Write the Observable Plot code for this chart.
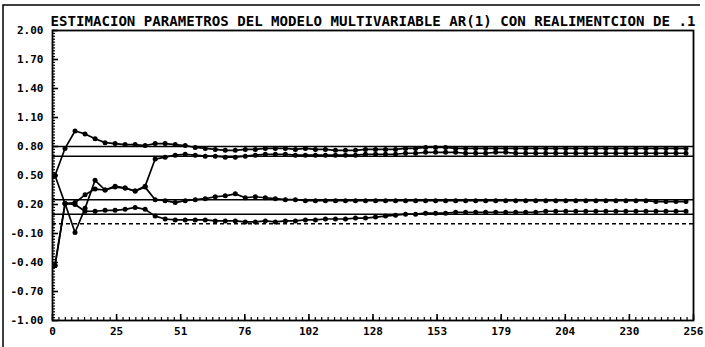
<!DOCTYPE html>
<html>
<head>
<meta charset="utf-8">
<script src="https://cdn.jsdelivr.net/npm/d3@7"></script>
<script src="https://cdn.jsdelivr.net/npm/@observablehq/plot@0.6"></script>
<style>
  html, body { margin: 0; padding: 0; background: #fff; }
  #chart { width: 705px; height: 347px; overflow: hidden; }
</style>
</head>
<body>
<div id="chart"></div>
<script>
// ---- data ----
const titleText = "ESTIMACION PARAMETROS DEL MODELO MULTIVARIABLE AR(1) CON REALIMENTCION DE .1";

// iteration index of each plotted estimate
const iter = d3.range(64).map(k => 1 + 4 * k);

const a11 = [0.50, 0.78, 0.96, 0.93, 0.88, 0.84, 0.83, 0.82, 0.82, 0.81, 0.83, 0.83, 0.82, 0.81, 0.79, 0.78,
             0.77, 0.76, 0.76, 0.77, 0.77, 0.78, 0.78, 0.78, 0.77, 0.78, 0.77, 0.77, 0.76, 0.76, 0.76, 0.77,
             0.77, 0.77, 0.77, 0.78, 0.78, 0.79, 0.79, 0.79, 0.78, 0.78, 0.78, 0.78, 0.78, 0.78, 0.78, 0.78,
             0.78, 0.78, 0.78, 0.78, 0.78, 0.78, 0.78, 0.78, 0.78, 0.78, 0.78, 0.78, 0.78, 0.78, 0.78, 0.78];
const a12 = [0.50, 0.21, -0.09, 0.16, 0.45, 0.35, 0.39, 0.37, 0.34, 0.39, 0.67, 0.69, 0.71, 0.72, 0.71, 0.70,
             0.70, 0.69, 0.69, 0.70, 0.71, 0.72, 0.72, 0.72, 0.71, 0.71, 0.71, 0.71, 0.71, 0.71, 0.71, 0.72,
             0.72, 0.72, 0.72, 0.73, 0.73, 0.74, 0.74, 0.74, 0.74, 0.73, 0.73, 0.73, 0.74, 0.74, 0.73, 0.73,
             0.73, 0.73, 0.73, 0.73, 0.73, 0.73, 0.73, 0.73, 0.73, 0.73, 0.73, 0.73, 0.73, 0.73, 0.73, 0.73];
const a21 = [-0.43, 0.21, 0.22, 0.30, 0.36, 0.35, 0.38, 0.37, 0.34, 0.38, 0.25, 0.24, 0.22, 0.24, 0.25, 0.26,
             0.28, 0.29, 0.31, 0.27, 0.28, 0.27, 0.26, 0.25, 0.25, 0.24, 0.24, 0.24, 0.24, 0.24, 0.24, 0.24,
             0.24, 0.24, 0.24, 0.24, 0.24, 0.24, 0.24, 0.24, 0.24, 0.24, 0.24, 0.24, 0.24, 0.24, 0.24, 0.24,
             0.24, 0.24, 0.24, 0.24, 0.24, 0.24, 0.24, 0.24, 0.24, 0.24, 0.24, 0.24, 0.23, 0.23, 0.23, 0.23];
const a22 = [-0.43, 0.21, 0.20, 0.13, 0.13, 0.14, 0.14, 0.15, 0.17, 0.15, 0.08, 0.05, 0.04, 0.04, 0.04, 0.04,
             0.03, 0.03, 0.03, 0.02, 0.02, 0.03, 0.02, 0.03, 0.03, 0.04, 0.04, 0.05, 0.05, 0.05, 0.06, 0.06,
             0.07, 0.08, 0.09, 0.10, 0.10, 0.11, 0.11, 0.11, 0.12, 0.12, 0.12, 0.12, 0.12, 0.12, 0.12, 0.12,
             0.12, 0.13, 0.13, 0.13, 0.13, 0.13, 0.13, 0.13, 0.13, 0.13, 0.13, 0.13, 0.13, 0.13, 0.13, 0.13];

// true parameter values (horizontal reference lines)
const trueSolid = [0.80, 0.70, 0.25, 0.10];
const trueDashed = [0.00];

// axis ticks
const xMajor = d3.range(11).map(i => i * 25.6);
const xMinor = d3.range(101).map(i => i * 2.56);
const yMajor = [2.00, 1.70, 1.40, 1.10, 0.80, 0.50, 0.20, -0.10, -0.40, -0.70, -1.00];
const yMinor = d3.range(101).map(i => -1 + i * 0.03);

// ---- build table ----
const series = [
  {name: "a11", values: a11},
  {name: "a12", values: a12},
  {name: "a21", values: a21},
  {name: "a22", values: a22}
];
const rows = series.flatMap(s => s.values.map((v, i) => ({s: s.name, t: iter[i], v})));

const W = 705, H = 347;
const mL = 52, mR = 12, mT = 30, mB = 27;
const frameW = W - mL - mR, frameH = H - mT - mB;

const chart = Plot.plot({
  width: W,
  height: H,
  marginLeft: mL,
  marginRight: mR,
  marginTop: mT,
  marginBottom: mB,
  style: {fontFamily: "'DejaVu Sans Mono', monospace", fontSize: "11px", fontWeight: "bold", color: "black", background: "white"},
  x: {domain: [0, 256]},
  y: {domain: [-1, 2]},
  marks: [
    Plot.axisX({ticks: xMajor, tickSize: 0, tickPadding: 7, tickFormat: d => String(Math.trunc(d + 1e-9)), label: null}),
    Plot.axisY({ticks: yMajor, tickSize: 0, tickPadding: 9, tickFormat: d => d.toFixed(2), label: null}),
    // inward ticks
    Plot.tickX(xMinor, {x: d => d, insetTop: frameH - 3, stroke: "black", strokeWidth: 1.2}),
    Plot.tickX(xMajor, {x: d => d, insetTop: frameH - 6, stroke: "black", strokeWidth: 1.6}),
    Plot.tickY(yMinor, {y: d => d, insetRight: frameW - 3, stroke: "black", strokeWidth: 1.2}),
    Plot.tickY(yMajor, {y: d => d, insetRight: frameW - 6, stroke: "black", strokeWidth: 1.6}),
    // reference lines
    Plot.ruleY(trueSolid, {y: d => d, stroke: "black", strokeWidth: 1.5}),
    Plot.ruleY(trueDashed, {y: d => d, stroke: "black", strokeWidth: 1.5, strokeDasharray: "4,3"}),
    // estimates
    Plot.line(rows, {x: "t", y: "v", z: "s", stroke: "black", strokeWidth: 1.7}),
    Plot.dot(rows, {x: "t", y: "v", r: 2.5, fill: "black", stroke: "none"}),
    Plot.frame({stroke: "black", strokeWidth: 1.8}),
    Plot.text([titleText], {frameAnchor: "top-left", textAnchor: "start", dx: -2, dy: -15, fontSize: 14.1, fontWeight: "bold", text: d => d})
  ]
});

// outer page frame (top and left edges of the printed sheet)
d3.select(chart).append("path")
  .attr("d", `M3,${H} V5 H700`)
  .attr("fill", "none")
  .attr("stroke", "black")
  .attr("stroke-width", 1.5);

document.getElementById("chart").appendChild(chart);
</script>
</body>
</html>
